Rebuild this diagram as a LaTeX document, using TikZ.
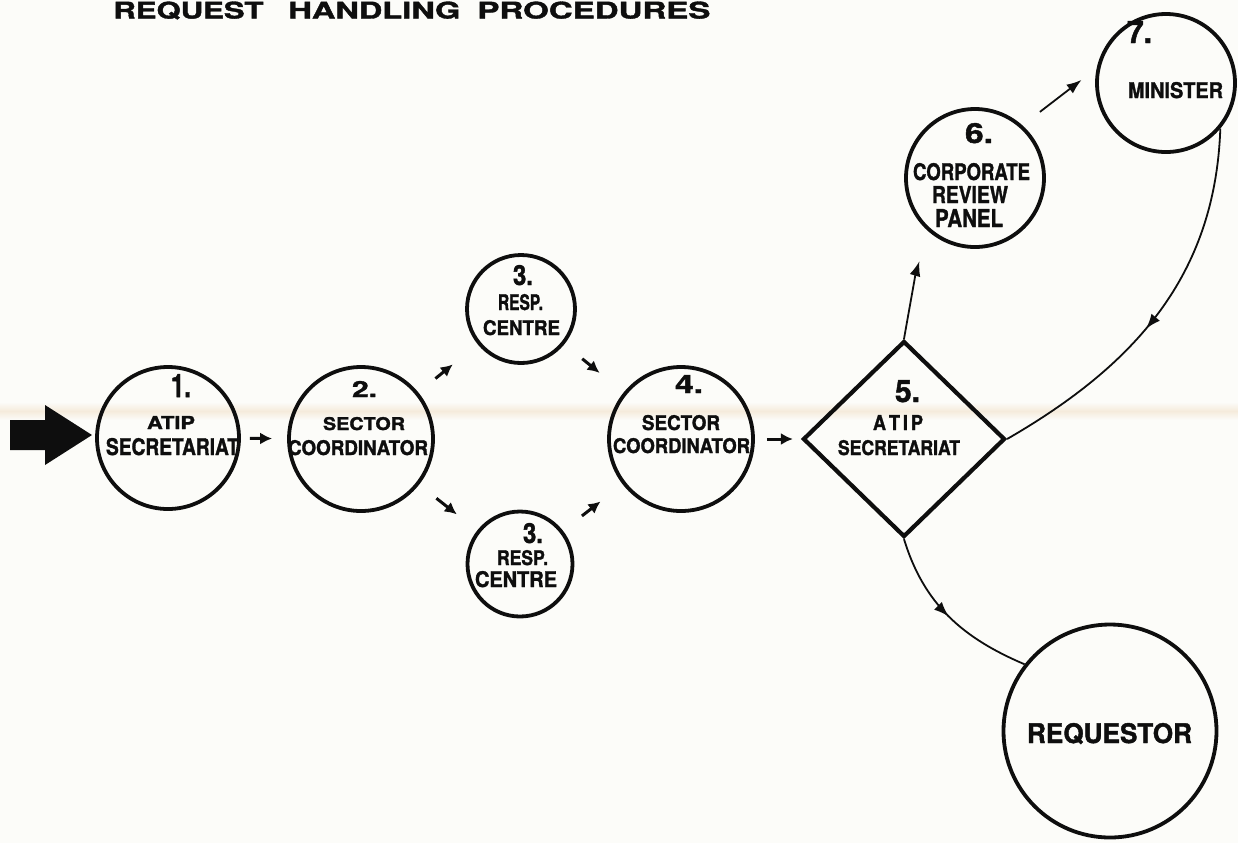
\documentclass[tikz,border=0pt]{standalone}
\usepackage{fontspec}
\setmainfont{TeX Gyre Heros}[BoldFeatures={FakeBold=1.5}]
\usepackage{graphicx}
\usetikzlibrary{arrows.meta,shapes.geometric,decorations.markings}
\definecolor{inkc}{RGB}{14,14,14}
\definecolor{paper}{RGB}{252,252,249}
\definecolor{band}{RGB}{245,235,220}
\newlength\pxu
\setlength\pxu{0.5pt}
\newcommand\lbl[3]{\resizebox{#1\pxu}{#2\pxu}{\bfseries #3}}
\begin{document}
\begin{tikzpicture}[x=0.5pt,y=-0.5pt,
  inkline/.style={draw=inkc, line width=1.9pt},
  circ/.style={circle, inkline, minimum size=#1, inner sep=0pt},
  rhomb/.style={diamond, draw=inkc, line width=2.1pt, inner sep=0pt, minimum width=101pt, minimum height=98pt},
  txt/.style={anchor=base, inner sep=0pt, text=inkc},
  stub/.style={draw=inkc, line width=1.5pt, -{Latex[length=6pt,width=6pt]}},
  flowline/.style={draw=inkc, line width=0.9pt},
  flowarrow/.style={flowline, -{Latex[length=7.5pt,width=5.5pt]}},
  midarrow/.style={flowline, postaction={decorate}, decoration={markings, mark=at position #1 with {\arrow{Latex[length=7.5pt,width=5.5pt]}}}}
]
\useasboundingbox (0,0) rectangle (1238,843);
\clip (0,0) rectangle (1238,843);
\fill[paper] (0,0) rectangle (1238,843);
\shade[top color=paper,bottom color=band] (0,402) rectangle (1238,411);
\shade[top color=band,bottom color=paper] (0,411) rectangle (1238,420);

% title
\node[txt, anchor=base west] (title) at (113,18.5) {\lbl{150}{17}{REQUEST}\hspace{12.5pt}\lbl{172}{17}{HANDLING}\hspace{8.5pt}\lbl{233}{17}{PROCEDURES}};

% shapes
\node[circ=71pt] (n1) at (168,438) {};
\node[circ=72pt] (n2) at (361,439) {};
\node[circ=54pt] (n3a) at (521,309) {};
\node[circ=52.5pt] (n3b) at (520,564) {};
\node[circ=72pt] (n4) at (681,439) {};
\node[rhomb] (n5) at (904,439) {};
\node[circ=69pt] (n6) at (975,178) {};
\node[circ=69pt] (n7) at (1166,83) {};
\node[circ=106.5pt] (req) at (1110,731) {};

% labels
\node[txt] (t1n) at (181,397) {\lbl{20}{23}{1.}};
\node[txt] (t1a) at (171,429) {\lbl{48}{13}{ATIP}};
\node[txt] (t1b) at (172.5,455) {\lbl{133}{17}{SECRETARIAT}};

\node[txt] (t2n) at (364.5,397) {\lbl{25}{16}{2.}};
\node[txt] (t2a) at (364,430) {\lbl{82}{13}{SECTOR}};
\node[txt] (t2b) at (358,455) {\lbl{140}{15}{COORDINATOR}};

\node[txt] (t3an) at (523,285) {\lbl{20}{20}{3.}};
\node[txt] (t3aa) at (520.5,310) {\lbl{45}{16}{RESP.}};
\node[txt] (t3ab) at (521.5,335) {\lbl{77}{15}{CENTRE}};

\node[txt] (t3bn) at (533,543) {\lbl{20}{20}{3.}};
\node[txt] (t3ba) at (522.5,565) {\lbl{51}{15}{RESP.}};
\node[txt] (t3bb) at (516,587) {\lbl{82}{16}{CENTRE}};

\node[txt] (t4n) at (689,393) {\lbl{28}{18}{4.}};
\node[txt] (t4a) at (681,430) {\lbl{78}{15}{SECTOR}};
\node[txt] (t4b) at (681.5,453) {\lbl{137}{15}{COORDINATOR}};

\node[txt] (t5n) at (907.5,402) {\lbl{25}{22}{5.}};
\node[txt] (t5a) at (898,430) {\lbl{50}{15}{A\,T\,I\,P}};
\node[txt] (t5b) at (899,455) {\lbl{122}{15}{SECRETARIAT}};

\node[txt] (t6n) at (979,143) {\lbl{28}{20}{6.}};
\node[txt] (t6a) at (971.5,180) {\lbl{117}{17}{CORPORATE}};
\node[txt] (t6b) at (970,203) {\lbl{76}{17}{REVIEW}};
\node[txt] (t6c) at (969,227) {\lbl{68}{18}{PANEL}};

\node[txt] (t7n) at (1139.5,43) {\lbl{25}{22}{7.}};
\node[txt] (t7a) at (1175.5,98) {\lbl{95}{16}{MINISTER}};

\node[txt] (treq) at (1109.5,743) {\lbl{165}{20}{REQUESTOR}};

% input arrow
\coordinate (in) at (92,435);
\fill[inkc] (10,420) -- (45,420) -- (45,405) -- (in) -- (45,465) -- (45,450) -- (10,450) -- cycle;

% short arrows
\draw[stub, shorten <=4.5pt, shorten >=7.5pt] (n1) -- (n2);
\draw[stub, shorten <=11pt, shorten >=16pt] (n2) -- (n3a);
\draw[stub, shorten <=11.5pt, shorten >=15.5pt] (n3a) -- (n4);
\draw[stub, shorten <=11pt, shorten >=13pt] (n2) -- (n3b);
\draw[stub, shorten <=12pt, shorten >=14pt] (n3b) -- (n4);
\draw[stub, shorten <=6pt, shorten >=4pt] (n4) -- (n5);

% review path
\draw[flowarrow, shorten >=15.5pt] (n5.north) to[out=80, in=253] (n6.229);
\draw[flowarrow, shorten <=11pt, shorten >=9.5pt] (n6.48) -- (n7.168);
\draw[midarrow=0.55] (n7.320) to[out=-92, in=30] (n5.east);
\draw[midarrow=0.5] (n5.south) to[out=-73, in=157] (req.142);
\end{tikzpicture}
\end{document}
